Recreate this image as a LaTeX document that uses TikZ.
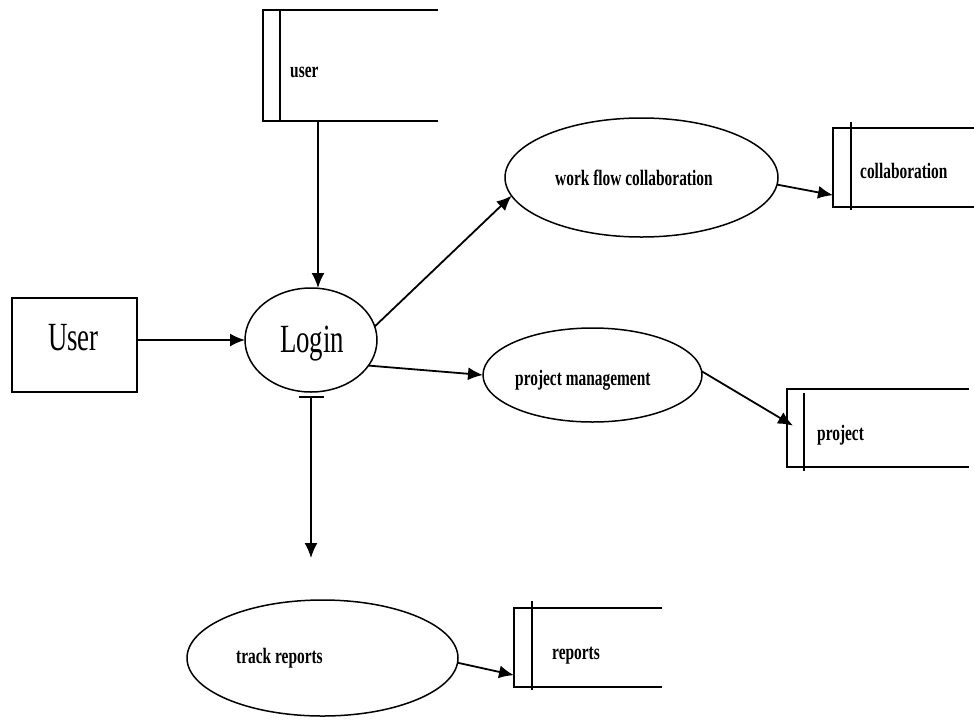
\documentclass[tikz,border=0pt]{standalone}
\usepackage{fontspec}
\setmainfont{Liberation Serif}
\usepackage{graphicx}
\usetikzlibrary{arrows.meta,calc,shapes.geometric}
\newcommand{\narr}[1]{\scalebox{0.7}[1]{#1}}
\newcommand{\narrbig}[1]{\scalebox{0.67}[1]{#1}}
\begin{document}
\begin{tikzpicture}[x=1pt,y=-1pt,
  proc/.style={draw, ellipse, line width=1.5pt, inner sep=0pt, outer sep=0pt},
  storebox/.style={inner sep=0pt, outer sep=0pt, anchor=north west},
  storeline/.style={line width=1.8pt},
  lbl/.style={anchor=base west, inner sep=0pt, font=\fontsize{22}{24}\selectfont\bfseries},
  biglbl/.style={anchor=base west, inner sep=0pt, font=\fontsize{40}{44}\selectfont},
  arr/.style={line width=1.8pt, -{Latex[length=15pt,width=13pt]}},
]
\useasboundingbox[fill=white] (0,0) rectangle (974,721);

% external entity
\node[draw, line width=1.8pt, minimum width=125pt, minimum height=94pt, inner sep=0pt, outer sep=0pt] (user) at (74.5,345) {};
\node[biglbl] (usertxt) at (48,350) {\narrbig{User}};

% processes
\node[proc, minimum width=132pt, minimum height=104pt] (login) at (311,340) {};
\node[biglbl] (logintxt) at (280,352) {\narrbig{Login}};
\node[proc, minimum width=273pt, minimum height=119pt] (wf) at (641.5,177.5) {};
\node[lbl] (wftxt) at (555,185) {\narr{work flow collaboration}};
\node[proc, minimum width=219pt, minimum height=94pt] (pm) at (592.5,375) {};
\node[lbl] (pmtxt) at (515,385) {\narr{project management}};
\node[proc, minimum width=271pt, minimum height=116pt] (tr) at (322.5,658) {};
\node[lbl] (trtxt) at (236,663) {\narr{track reports}};

% data stores
\node[storebox, minimum width=175pt, minimum height=111pt] (ustore) at (263,10) {};
\draw[storeline] (ustore.north east) -- (ustore.north west) -- (ustore.south west) -- (ustore.south east);
\draw[storeline] ($(ustore.north west)+(17,0)$) -- ($(ustore.south west)+(17,0)$);
\node[lbl] (ustoretxt) at (290,77) {\narr{user}};

\node[storebox, minimum width=141pt, minimum height=79pt] (cstore) at (833,128) {};
\draw[storeline] (cstore.north east) -- (cstore.north west) -- (cstore.south west) -- (cstore.south east);
\draw[storeline] ($(cstore.north west)+(18,-6)$) -- ($(cstore.south west)+(18,3)$);
\node[lbl] (cstoretxt) at (860,178) {\narr{collaboration}};

\node[storebox, minimum width=182pt, minimum height=78pt] (pstore) at (787,389) {};
\draw[storeline] (pstore.north east) -- (pstore.north west) -- (pstore.south west) -- (pstore.south east);
\draw[storeline] ($(pstore.north west)+(17,4)$) -- ($(pstore.south west)+(17,4)$);
\node[lbl] (pstoretxt) at (817,440) {\narr{project}};

\node[storebox, minimum width=148pt, minimum height=79pt] (rstore) at (514,608) {};
\draw[storeline] (rstore.north east) -- (rstore.north west) -- (rstore.south west) -- (rstore.south east);
\draw[storeline] ($(rstore.north west)+(18,-7)$) -- ($(rstore.south west)+(18,3)$);
\node[lbl] (rstoretxt) at (552,659) {\narr{reports}};

% connectors
\coordinate (usout) at (318,121);
\draw[arr] (usout) -- (usout |- login.north);
\draw[arr] (login.west -| user.east) -- (login.west);
\draw[arr] (login.12) -- (wf.188);
\draw[arr] (login.-24) -- (pm.180);
\coordinate (downend) at (311,558);
\draw[line width=1.8pt, {Bar[width=25pt,length=0pt]}-{Latex[length=15pt,width=13pt]}, shorten <=4pt] (login.south) -- (downend);
\draw[arr] (wf.-3) -- ($(cstore.north west)!0.85!(cstore.south west)$);
\draw[arr] (pm.2) -- ($(pstore.north west)!0.47!(pstore.south west)+(6,0)$);
\draw[arr] (tr.-2) -- ($(rstore.north west)!0.85!(rstore.south west)$);
\end{tikzpicture}
\end{document}
